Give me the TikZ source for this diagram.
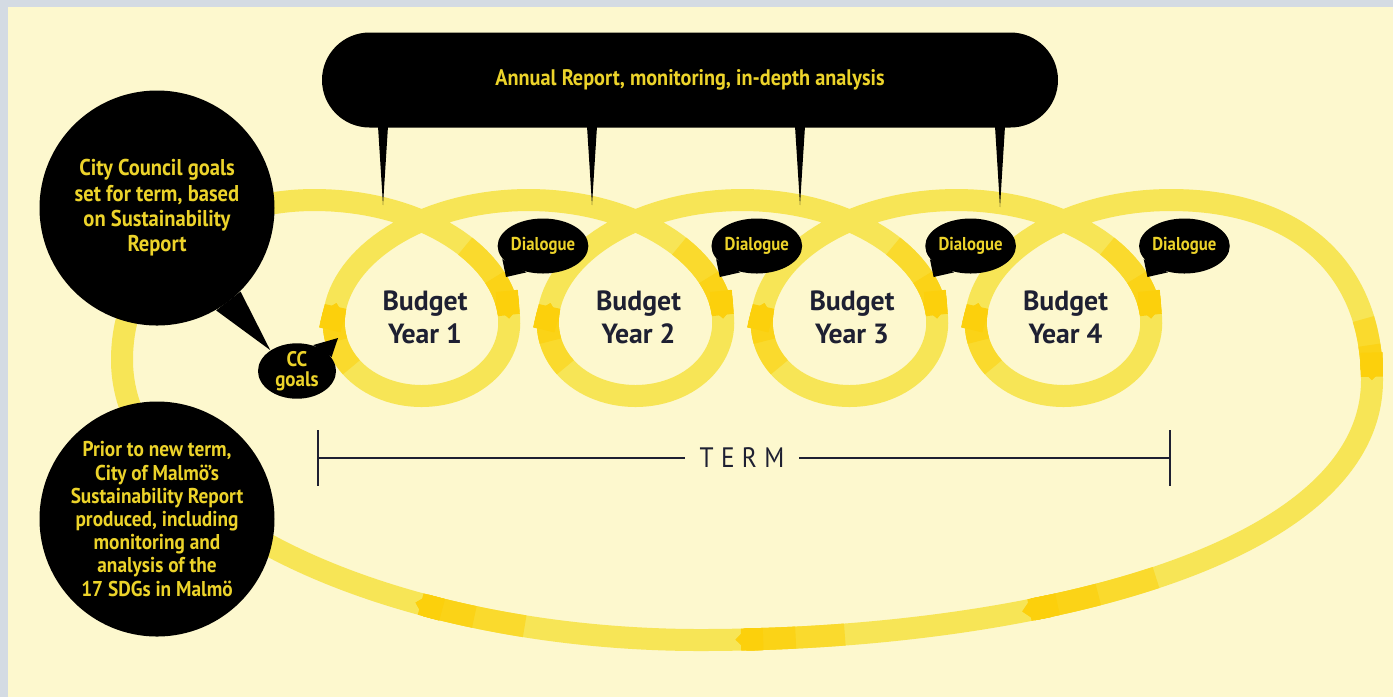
\documentclass[tikz,border=0pt]{standalone}
\usepackage{fontspec}
\setmainfont{PT Sans}
\newfontfamily\bubblefont[FakeStretch=0.9]{PT Sans}
\usepackage{xcolor}
\usepackage{tikz}
\usetikzlibrary{arrows.meta,shapes.geometric}

\definecolor{cream}{RGB}{253,248,206}
\definecolor{frame}{RGB}{212,219,227}
\definecolor{band}{RGB}{247,229,86}
\definecolor{banddark}{RGB}{252,208,12}
\definecolor{bubbletext}{RGB}{236,211,42}
\definecolor{navy}{RGB}{30,32,50}

\tikzset{
  loopband/.style={line width=2.2mm, color=band, line join=round},
  dart/.style={line width=2.2mm, -{Triangle Cap}},
  blackbubble/.style={circle, fill=black, minimum size=23.5mm, inner sep=0pt, text=bubbletext, align=center,
    font=\bubblefont\bfseries\fontsize{6.5}{7.2}\selectfont},
  talk/.style={ellipse, fill=black, minimum width=7.8mm, minimum height=5.5mm, inner sep=0pt, text=bubbletext, align=center,
    font=\bubblefont\bfseries\fontsize{6}{5.6}\selectfont},
  budget/.style={text=navy, align=center, font=\bfseries\fontsize{7.9}{9.4}\selectfont},
}

\newcommand{\yellowdart}[4]{%
  \pgfmathsetmacro\dartmid{#3+0.45*((#4)-(#3))}%
  \pgfmathsetmacro\darttip{#3+0.75*((#4)-(#3))}%
  \draw[dart, band!45!banddark] plot[domain=#3:#4, samples=12] ({#1},{#2});
  \draw[dart, band!15!banddark] plot[domain=\dartmid:#4, samples=8] ({#1},{#2});
  \draw[dart, banddark] plot[domain=\darttip:#4, samples=6] ({#1},{#2});}

\begin{document}
\begin{tikzpicture}[x=0.1mm, y=-0.1mm,
  declare function={trx(\ph)=368+0.59444*\ph+137*cos(\ph); try(\ph)=298+98*sin(\ph);
    bz(\tb,\pa,\pb,\pc,\pd)=(1-\tb)^3*\pa+3*(1-\tb)^2*\tb*\pb+3*(1-\tb)*\tb^2*\pc+\tb^3*\pd;}]
\useasboundingbox (0,0) rectangle (1393,697);
\fill[frame] (0,0) rectangle (1393,697);
\fill[cream] (8,7) rectangle (1393,697);

% the loops and the long way round
\draw[loopband] plot[domain=-90:1350, samples=481] ({trx(\x)},{try(\x)})
  .. controls (1300,200) and (1372,270) .. (1372,380)
  .. controls (1372,560) and (1020,640) .. (700,640)
  .. controls (400,640) and (122,520) .. (122,360)
  .. controls (122,250) and (220,200) .. (314.5,200);

\foreach \k in {0,...,3}{
  \pgfmathsetmacro\ra{-32+360*\k}
  \pgfmathsetmacro\rb{12+360*\k}
  \pgfmathsetmacro\rc{135+360*\k}
  \pgfmathsetmacro\rd{177+360*\k}
  \yellowdart{trx(\x)}{try(\x)}{\ra}{\rb}
  \yellowdart{trx(\x)}{try(\x)}{\rc}{\rd}
}
\yellowdart{bz(\x,1170.5,1300,1372,1372)}{bz(\x,200,200,270,380)}{0.8}{1}
\yellowdart{bz(\x,1372,1372,1020,700)}{bz(\x,380,560,640,640)}{0.5}{0.66}
\yellowdart{bz(\x,1372,1372,1020,700)}{bz(\x,380,560,640,640)}{0.85}{0.963}
\yellowdart{bz(\x,700,400,122,122)}{bz(\x,640,640,520,360)}{0.2}{0.335}

% term
\coordinate (tl) at (318,458);
\coordinate (tr) at (1170,458);
\node[text=navy, inner xsep=1.4mm, font=\bubblefont\fontsize{8}{8}\selectfont] (term) at (742,458)
  {\addfontfeature{LetterSpace=26}TERM};
\draw[navy, line width=0.2mm] (tl) -- (term.west) (term.east) -- (tr);
\draw[navy, line width=0.2mm] (tl) ++(0,-28) -- ++(0,56) (tr) ++(0,-28) -- ++(0,56);

% annual report bar
\node[fill=black, rounded corners=4.75mm, minimum width=73.6mm, minimum height=9.5mm, text=bubbletext,
  font=\bubblefont\bfseries\fontsize{6.4}{7.1}\selectfont] (annual) at (690,80)
  {Annual Report, monitoring, in-depth analysis};
\foreach \px/\py [count=\i] in {383/205, 592/205, 800/205, 1000/207}{
  \coordinate (pin\i) at (\px,\py);
  \fill ([xshift=-0.5mm, yshift=0.2mm]pin\i |- annual.south) -- (pin\i)
    -- ([xshift=0.5mm, yshift=0.2mm]pin\i |- annual.south) -- cycle;
}

% bubbles
\node[blackbubble] (ccset) at (157,208)
  {City Council goals\\set for term, based\\on Sustainability\\Report};
\node[blackbubble, font=\bubblefont\bfseries\fontsize{6.1}{6.6}\selectfont] (prior) at (157,519)
  {Prior to new term,\\City of Malmö’s\\Sustainability Report\\produced, including\\monitoring and\\analysis of the\\17 SDGs in Malmö};
\node[talk] (ccgoals) at (297,371) {CC\\goals};
\fill (ccset.-60) -- (ccgoals.142) -- (ccset.-45) -- cycle;
\coordinate (cctip) at (338,338);
\fill (ccgoals.22) -- (cctip) -- (ccgoals.58) -- cycle;

\foreach \k in {1,...,4}{
  \node[talk, font=\bubblefont\bfseries\fontsize{5.3}{6}\selectfont] (dlg\k) at ({543+213.8*(\k-1)},246) {Dialogue};
  \coordinate (dtip\k) at ({506+213.8*(\k-1)},277);
  \fill (dlg\k.198) -- (dtip\k) -- (dlg\k.238) -- cycle;
  \node[budget] (year\k) at ({425+213.5*(\k-1)},317) {Budget\\Year \k};
}
\end{tikzpicture}
\end{document}
